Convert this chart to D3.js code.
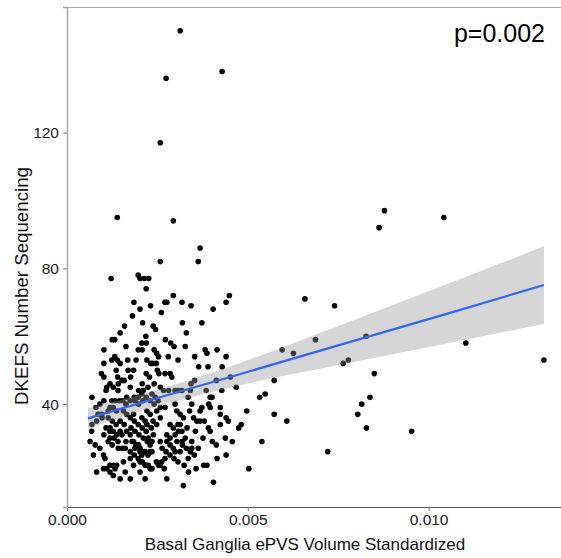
<!DOCTYPE html>
<html>
<head>
<meta charset="utf-8">
<script src="https://cdn.jsdelivr.net/npm/d3@7"></script>
<style>
  body { margin: 0; background: #fff; }
  text { font-family: "Liberation Sans", Arial, sans-serif; }
</style>
</head>
<body>
<div id="chart"></div>
<script>
// basal ganglia ePVS volume (standardized) per subject
const epvs = [
  0.00313, 0.00274, 0.00258, 0.00429, 0.00139, 0.00294, 0.00368, 0.00258, 0.00363,
  0.00878, 0.00863, 0.01042, 0.00658, 0.0074, 0.00687, 0.00595, 0.00626, 0.00827, 0.00764,
  0.00778, 0.01103, 0.01319, 0.00573, 0.0085, 0.00533, 0.00548, 0.00497, 0.00573, 0.00608,
  0.00838, 0.00815, 0.00804, 0.00828, 0.00953, 0.00482, 0.00539, 0.00721, 0.00503,
  0.00294, 0.00271, 0.00276, 0.00318, 0.00343, 0.00261, 0.00404, 0.00449, 0.0044, 0.00319,
  0.00373, 0.0033, 0.00272, 0.00287, 0.00296, 0.00327, 0.00382, 0.00387, 0.00415, 0.0044,
  0.00353, 0.00364, 0.0039, 0.00271, 0.00285, 0.0029, 0.00353,
  0.00122, 0.00197, 0.00202, 0.00214, 0.00226, 0.00219, 0.00185, 0.00202, 0.00231, 0.00181,
  0.00159, 0.00209, 0.00238, 0.00245, 0.00218, 0.00132, 0.00207, 0.00197, 0.00208, 0.00102,
  0.00241, 0.00248, 0.00253, 0.00132, 0.00124, 0.00139, 0.00147, 0.00168, 0.00221, 0.00232,
  0.00237, 0.00136, 0.00184, 0.0025, 0.00095, 0.00102, 0.0014, 0.00176, 0.00219, 0.00228, 0.00254,
  0.00069, 0.00128, 0.00142, 0.00152, 0.0011, 0.00175, 0.00198, 0.00211, 0.00207, 0.00258,
  0.00235, 0.00244, 0.00124, 0.00133, 0.00145, 0.00154, 0.00165, 0.00188, 0.00198, 0.0021,
  0.00119, 0.00128, 0.00137, 0.00114, 0.00096, 0.00156, 0.00165, 0.00184, 0.00221, 0.0023,
  0.00248, 0.00069, 0.00082, 0.00068, 0.00119, 0.00128, 0.00137, 0.00147, 0.00119, 0.00165,
  0.00175, 0.00184, 0.00207, 0.00216, 0.00221, 0.00248, 0.00239, 0.00225, 0.00235, 0.00198,
  0.00202, 0.00188, 0.00216, 0.0023, 0.00207, 0.00142, 0.00152, 0.00161, 0.00073, 0.00101,
  0.00119, 0.00128, 0.00137, 0.00156, 0.00175, 0.00184, 0.00202, 0.00216, 0.00225, 0.00258,
  0.00082, 0.00101, 0.0011, 0.00119, 0.00128, 0.00175, 0.0023, 0.00253,
  0.00343, 0.00267, 0.00281, 0.00299, 0.00308, 0.00318, 0.00341, 0.00428, 0.00468, 0.00258,
  0.00271, 0.00299, 0.00304, 0.00313, 0.00345, 0.00339, 0.00373, 0.00396, 0.00392, 0.00396,
  0.00401, 0.00424, 0.00424, 0.0044, 0.00258, 0.00285, 0.00294, 0.00313, 0.00322, 0.0035,
  0.00359, 0.00368, 0.00276, 0.00285, 0.00299, 0.00308, 0.00318, 0.00332, 0.00327, 0.00355,
  0.00376, 0.00396, 0.00438, 0.00475, 0.00276, 0.00285, 0.00294, 0.00304, 0.00318, 0.00345,
  0.00345, 0.00299, 0.00313, 0.00262, 0.00271, 0.00336, 0.00378, 0.00387, 0.00415, 0.0044,
  0.00276, 0.00322, 0.00405,
  0.00175, 0.00186, 0.00197, 0.00208, 0.00219, 0.00177, 0.00188, 0.00199, 0.00211, 0.00222,
  0.0018, 0.00191, 0.00202, 0.00213, 0.00224, 0.00175, 0.00186, 0.00197, 0.00208, 0.00219,
  0.0023, 0.00235, 0.00233, 0.00238,
  0.00114, 0.00125, 0.00136, 0.00147, 0.00158, 0.00108, 0.00119, 0.0013, 0.00141, 0.00152,
  0.00163, 0.00102, 0.00114, 0.00125,
  0.0008, 0.00091, 0.00102, 0.00086, 0.00097, 0.00163, 0.00175, 0.00186, 0.00197, 0.00219,
  0.0023, 0.00241, 0.00252,
  0.00307, 0.00319, 0.0033, 0.00341, 0.00352, 0.00363, 0.00263, 0.00274, 0.00285, 0.00296,
  0.00307, 0.00324, 0.00335, 0.00258, 0.00269, 0.00368, 0.0038, 0.00391, 0.00402, 0.00413,
  0.00424, 0.00446, 0.00457, 0.00357,
  0.00064, 0.00078, 0.00091, 0.00105, 0.00133, 0.00147, 0.00161, 0.00202, 0.00216, 0.00235,
  0.00247,
  0.00119, 0.00141, 0.00108, 0.00158, 0.00169, 0.00208, 0.00224, 0.00241, 0.00247, 0.00163,
  0.00147, 0.00125, 0.00219, 0.00191, 0.00102,
  0.00413, 0.00385, 0.00307, 0.0028, 0.00452, 0.00429, 0.00335
];

// DKEFS number sequencing score, same order as epvs
const dkefs = [
  150, 136, 117, 138, 95, 94, 86, 82, 82,
  97, 92, 95, 71, 69, 59, 56, 55, 60, 52,
  53, 58, 53, 47, 49, 42, 43, 38, 37, 35,
  42, 40, 37, 33, 32, 34, 29, 26, 21,
  72, 70, 70, 70, 69, 67, 68, 72, 70, 64,
  64, 61, 59, 58, 57, 57, 56, 55, 56, 54,
  54, 51, 51, 49, 49, 48, 47,
  77, 78, 77, 77, 77, 74, 70, 68, 69, 66,
  63, 64, 63, 62, 60, 59, 58, 56, 56, 56,
  56, 55, 54, 54, 53, 53, 52, 53, 53, 52,
  52, 50, 50, 50, 49, 48, 48, 48, 49, 48, 49,
  42, 45, 46, 47, 45, 45, 44, 44, 43, 45,
  43, 42, 41, 41, 41, 41, 42, 41, 40, 41,
  39, 39, 38, 38, 37, 38, 37, 37, 38, 37,
  38, 34, 35, 32, 33, 32, 31, 32, 30, 32,
  31, 29, 36, 35, 34, 34, 31, 30, 29, 28,
  26, 27, 26, 26, 25, 27, 27, 27, 25, 25,
  22, 22, 22, 23, 24, 22, 23, 22, 22, 22,
  20, 21, 21, 20, 19, 18, 21, 22,
  46, 44, 44, 44, 44, 44, 44, 44, 45, 39,
  39, 40, 38, 37, 40, 38, 39, 42, 40, 39,
  42, 39, 37, 36, 36, 34, 33, 34, 36, 36,
  35, 35, 31, 30, 31, 32, 32, 33, 30, 32,
  30, 32, 30, 33, 29, 28, 27, 29, 29, 29,
  27, 26, 26, 23, 24, 20, 22, 22, 24, 25,
  18, 16, 17,
  36, 35, 34, 33, 32, 33, 32, 31, 30, 29,
  29, 28, 27, 26, 25, 26, 25, 24, 23, 22,
  28, 26, 33, 35,
  36, 35, 34, 35, 34, 33, 32, 30, 29, 31,
  29, 31, 29, 28,
  39, 40, 41, 37, 36, 40, 41, 42, 42, 42,
  41, 40, 41,
  34, 28, 27, 26, 25, 27, 27, 26, 25, 24,
  23, 22, 24, 29, 21, 38, 35, 33, 29, 28,
  34, 35, 29, 21,
  29, 28, 27, 24, 21, 18, 20, 20, 18, 21,
  23,
  46, 44, 44, 47, 50, 46, 45, 46, 52, 57,
  61, 59, 58, 53, 52,
  47, 44, 53, 54, 48, 51, 42
];

// lm fit with 95% band
const fitX  = [0.00058, 0.0025, 0.0048, 0.0075, 0.0105, 0.01319];
const fitY  = [35.8, 41.8, 48.9, 57.3, 66.6, 75.1];
const fitLo = [32.8, 39.4, 45.6, 51.5, 57.9, 63.6];
const fitHi = [38.8, 44.2, 52.2, 63.0, 75.3, 86.5];

const xTicks = [0, 0.005, 0.010];
const xTickLabels = ["0.000", "0.005", "0.010"];
const yTicks = [40, 80, 120];
const pLabel = "p=0.002";

const W = 561, H = 558;
const margin = { top: 7, right: -5, bottom: 51, left: 67 };

const svg = d3.select("#chart").append("svg")
    .attr("width", W)
    .attr("height", H);

const x = d3.scaleLinear()
    .domain([0, 0.0138])
    .range([margin.left, W - margin.right]);

const y = d3.scaleLinear()
    .domain([9.7, 157])
    .range([H - margin.bottom, margin.top]);

const points = epvs.map((v, i) => ({ x: v, y: dkefs[i] }));
const band = fitX.map((v, i) => ({ x: v, y: fitY[i], lo: fitLo[i], hi: fitHi[i] }));

// points first, ribbon on top of them (like geom_point + geom_smooth)
svg.append("g").selectAll(".dot")
    .data(points)
    .enter().append("circle")
    .attr("class", "dot")
    .attr("cx", d => x(d.x))
    .attr("cy", d => y(d.y))
    .attr("r", 2.8)
    .style("fill", "#000");

svg.append("path")
    .datum(band)
    .attr("d", d3.area()
        .curve(d3.curveMonotoneX)
        .x(d => x(d.x))
        .y0(d => y(d.lo))
        .y1(d => y(d.hi)))
    .style("fill", "#999999")
    .style("fill-opacity", 0.4);

svg.append("path")
    .datum(band)
    .attr("d", d3.line()
        .x(d => x(d.x))
        .y(d => y(d.y)))
    .style("fill", "none")
    .style("stroke", "#3366FF")
    .style("stroke-width", 2.2);

// frame line on top
svg.append("line")
    .attr("x1", margin.left).attr("x2", W)
    .attr("y1", margin.top + 0.5).attr("y2", margin.top + 0.5)
    .style("stroke", "#aaaaaa").style("stroke-width", 1);

// axes
const xAxis = svg.append("g")
    .attr("transform", "translate(0," + (H - margin.bottom) + ")")
    .call(d3.axisBottom(x).tickValues(xTicks).tickFormat((d, i) => xTickLabels[i]).tickSize(4).tickPadding(3));

const yAxis = svg.append("g")
    .attr("transform", "translate(" + margin.left + ",0)")
    .call(d3.axisLeft(y).tickValues(yTicks).tickSize(4).tickPadding(4));

xAxis.select(".domain").style("stroke", "#555555").style("stroke-width", 1.2);
yAxis.select(".domain").style("stroke", "#a6a6a6").style("stroke-width", 1.5);
svg.selectAll(".tick line").style("stroke", "#777777");
svg.selectAll(".tick text")
    .style("font-size", "15.5px")
    .style("fill", "#1a1a1a")
    .style("font-family", "'Liberation Sans', Arial, sans-serif");

// titles
svg.append("text")
    .attr("x", 305)
    .attr("y", 550)
    .style("text-anchor", "middle")
    .style("font-size", "17px")
    .style("fill", "#111")
    .text("Basal Ganglia ePVS Volume Standardized");

svg.append("text")
    .attr("transform", "translate(28,286) rotate(-90)")
    .style("text-anchor", "middle")
    .style("font-size", "18.7px")
    .style("fill", "#111")
    .text("DKEFS Number Sequencing");

svg.append("text")
    .attr("x", 545)
    .attr("y", 42)
    .style("text-anchor", "end")
    .style("font-size", "25px")
    .style("fill", "#000")
    .text(pLabel);
</script>
</body>
</html>
